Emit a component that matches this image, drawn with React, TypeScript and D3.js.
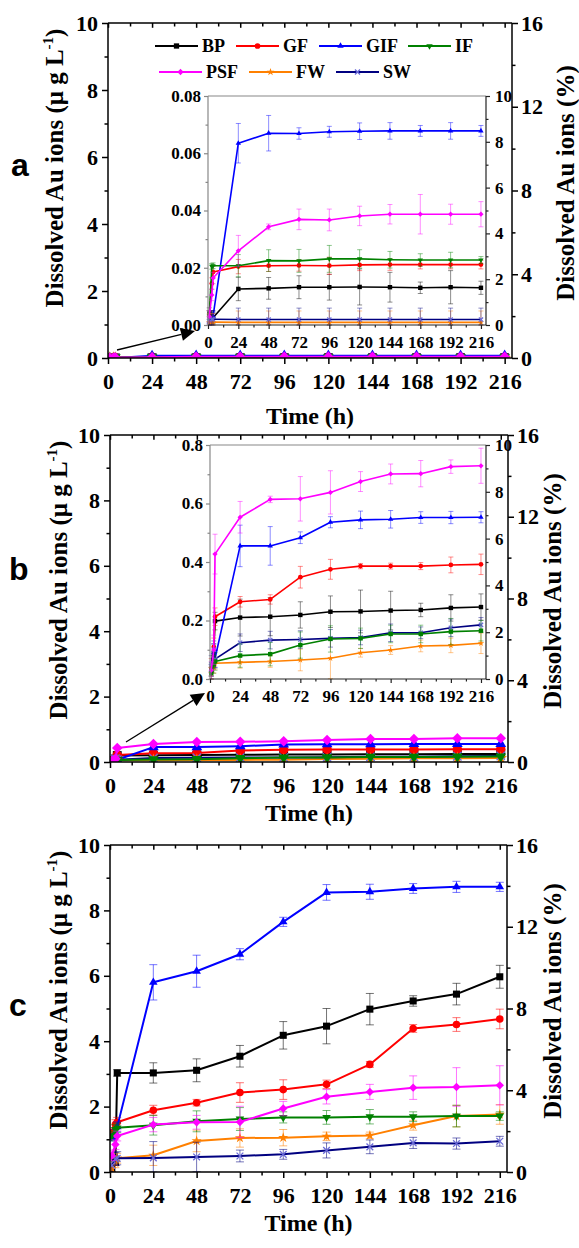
import React, { useEffect, useRef } from "react";
import * as d3 from "d3";

const W = 579;
const H = 1248;
const SERIF = "'Liberation Serif','Times New Roman',Times,serif";
const SANS = "'Liberation Sans',Arial,Helvetica,sans-serif";

// ---------- categories / ticks ----------
const SERIES = ["BP", "GF", "GIF", "IF", "PSF", "FW", "SW"];
const COLORS = ["#000000", "#ff0000", "#0000ff", "#008000", "#ff00ff", "#ff8000", "#000080"];
const TIMES = [1, 3, 4, 24, 48, 72, 96, 120, 144, 168, 192, 216];
const X_TICKS = [0, 24, 48, 72, 96, 120, 144, 168, 192, 216];
const X_MINOR = [12, 36, 60, 84, 108, 132, 156, 180, 204];
const LEFT_TICKS = [0, 2, 4, 6, 8, 10];
const LEFT_MINOR = [1, 3, 5, 7, 9];
const RIGHT_TICKS = [0, 4, 8, 12, 16];
const RIGHT_MINOR = [2, 6, 10, 14];
const INSET_RIGHT_TICKS = [0, 2, 4, 6, 8, 10];
const INSET_RIGHT_MINOR = [1, 3, 5, 7, 9];
const INSET_A_TICKS = [0, 0.02, 0.04, 0.06, 0.08];
const INSET_A_MINOR = [0.01, 0.03, 0.05, 0.07];
const INSET_B_TICKS = [0, 0.2, 0.4, 0.6, 0.8];
const INSET_B_MINOR = [0.1, 0.3, 0.5, 0.7];

// ---------- panel a (µg/L) ----------
const A_BP = [0.004, 0.003, 0.0025, 0.0126, 0.0128, 0.0132, 0.0132, 0.0133, 0.0132, 0.013, 0.0132, 0.013];
const A_BP_ERR = [0.002, 0.002, 0.002, 0.0041, 0.0038, 0.004, 0.0045, 0.0063, 0.0052, 0.002, 0.0058, 0.0023];
const A_GF = [0.003, 0.0145, 0.0185, 0.0204, 0.0207, 0.0208, 0.0207, 0.021, 0.0211, 0.0211, 0.0211, 0.0211];
const A_GF_ERR = [0.002, 0.002, 0.002, 0.0025, 0.002, 0.002, 0.003, 0.002, 0.002, 0.0015, 0.0015, 0.0015];
const A_GIF = [0.001, 0.002, 0.003, 0.0635, 0.067, 0.0669, 0.0675, 0.0677, 0.0678, 0.0678, 0.0678, 0.0678];
const A_GIF_ERR = [0.001, 0.001, 0.001, 0.0069, 0.0062, 0.002, 0.0019, 0.0029, 0.0029, 0.0019, 0.0029, 0.0019];
const A_IF = [0.003, 0.0205, 0.0207, 0.0207, 0.0225, 0.0224, 0.0231, 0.0231, 0.0228, 0.0227, 0.0227, 0.0227];
const A_IF_ERR = [0.002, 0.001, 0.001, 0.0039, 0.0038, 0.004, 0.0047, 0.0032, 0.0029, 0.0022, 0.0027, 0.0012];
const A_PSF = [0.003, 0.0105, 0.0164, 0.0259, 0.0343, 0.0369, 0.0367, 0.0381, 0.0387, 0.0387, 0.0387, 0.0387];
const A_PSF_ERR = [0.002, 0.002, 0.002, 0.0054, 0.001, 0.0036, 0.0038, 0.0034, 0.0034, 0.0069, 0.0035, 0.0044];
const A_FW = [0.001, 0.001, 0.001, 0.0009, 0.0009, 0.0009, 0.0009, 0.0009, 0.0009, 0.0009, 0.0009, 0.0009];
const A_FW_ERR = [0.003, 0.003, 0.003, 0.004, 0.004, 0.004, 0.004, 0.004, 0.004, 0.004, 0.004, 0.004];
const A_SW = [0.002, 0.002, 0.002, 0.0019, 0.0019, 0.0019, 0.0019, 0.0019, 0.0019, 0.0019, 0.0019, 0.0019];
const A_SW_ERR = [0.003, 0.003, 0.003, 0.004, 0.004, 0.004, 0.004, 0.004, 0.004, 0.004, 0.004, 0.004];

// ---------- panel b (µg/L) ----------
const B_BP = [0.03, 0.09, 0.198, 0.21, 0.213, 0.219, 0.23, 0.231, 0.234, 0.236, 0.243, 0.246];
const B_BP_ERR = [0.02, 0.03, 0.03, 0.063, 0.065, 0.045, 0.054, 0.073, 0.066, 0.023, 0.045, 0.045];
const B_GF = [0.04, 0.11, 0.213, 0.264, 0.272, 0.348, 0.375, 0.386, 0.386, 0.386, 0.39, 0.392];
const B_GF_ERR = [0.03, 0.03, 0.03, 0.018, 0.016, 0.037, 0.034, 0.009, 0.01, 0.012, 0.027, 0.035];
const B_GIF = [0.03, 0.09, 0.07, 0.455, 0.455, 0.483, 0.536, 0.544, 0.546, 0.552, 0.552, 0.553];
const B_GIF_ERR = [0.02, 0.03, 0.03, 0.071, 0.066, 0.02, 0.019, 0.03, 0.03, 0.02, 0.021, 0.019];
const B_IF = [0.02, 0.05, 0.06, 0.08, 0.085, 0.116, 0.137, 0.139, 0.154, 0.154, 0.162, 0.165];
const B_IF_ERR = [0.02, 0.03, 0.03, 0.04, 0.04, 0.045, 0.045, 0.035, 0.03, 0.03, 0.045, 0.035];
const B_PSF = [0.03, 0.1, 0.427, 0.553, 0.614, 0.616, 0.638, 0.675, 0.701, 0.702, 0.726, 0.729];
const B_PSF_ERR = [0.03, 0.05, 0.068, 0.054, 0.011, 0.076, 0.074, 0.034, 0.034, 0.045, 0.023, 0.06];
const B_FW = [0.02, 0.04, 0.054, 0.057, 0.06, 0.065, 0.071, 0.09, 0.099, 0.113, 0.115, 0.122];
const B_FW_ERR = [0.02, 0.02, 0.02, 0.02, 0.02, 0.037, 0.07, 0.015, 0.015, 0.02, 0.025, 0.035];
const B_SW = [0.05, 0.1, 0.068, 0.124, 0.133, 0.135, 0.139, 0.142, 0.158, 0.158, 0.175, 0.185];
const B_SW_ERR = [0.03, 0.03, 0.03, 0.03, 0.03, 0.03, 0.03, 0.025, 0.03, 0.02, 0.03, 0.025];

// ---------- panel c (µg/L) ----------
const C_BP = [0.1, 0.3, 3.03, 3.03, 3.11, 3.54, 4.18, 4.46, 4.98, 5.23, 5.44, 5.97];
const C_BP_ERR = [0.1, 0.1, 0.1, 0.31, 0.35, 0.33, 0.42, 0.54, 0.48, 0.16, 0.33, 0.35];
const C_GF = [1.2, 1.45, 1.52, 1.89, 2.12, 2.43, 2.52, 2.68, 3.29, 4.39, 4.51, 4.68];
const C_GF_ERR = [0.15, 0.15, 0.15, 0.15, 0.1, 0.3, 0.3, 0.13, 0.09, 0.12, 0.21, 0.3];
const C_GIF = [1.05, 1.2, 1.38, 5.8, 6.14, 6.66, 7.65, 8.55, 8.57, 8.67, 8.72, 8.72];
const C_GIF_ERR = [0.1, 0.1, 0.15, 0.54, 0.49, 0.17, 0.14, 0.24, 0.23, 0.15, 0.17, 0.14];
const C_IF = [1.1, 1.3, 1.35, 1.43, 1.55, 1.62, 1.67, 1.67, 1.69, 1.69, 1.71, 1.71];
const C_IF_ERR = [0.15, 0.15, 0.15, 0.3, 0.32, 0.35, 0.17, 0.21, 0.22, 0.15, 0.33, 0.13];
const C_PSF = [0.5, 0.84, 1.1, 1.45, 1.52, 1.53, 1.94, 2.3, 2.45, 2.58, 2.6, 2.65];
const C_PSF_ERR = [0.15, 0.15, 0.15, 0.22, 0.21, 0.48, 0.22, 0.22, 0.23, 0.36, 0.59, 0.6];
const C_FW = [0.1, 0.28, 0.42, 0.51, 0.95, 1.04, 1.05, 1.09, 1.12, 1.43, 1.71, 1.76];
const C_FW_ERR = [0.1, 0.15, 0.15, 0.31, 0.33, 0.28, 0.25, 0.13, 0.1, 0.15, 0.33, 0.3];
const C_SW = [0.2, 0.4, 0.42, 0.43, 0.46, 0.49, 0.54, 0.66, 0.77, 0.89, 0.87, 0.94];
const C_SW_ERR = [0.2, 0.2, 0.2, 0.5, 0.45, 0.18, 0.15, 0.23, 0.21, 0.17, 0.17, 0.15];

const A_VALS = [A_BP, A_GF, A_GIF, A_IF, A_PSF, A_FW, A_SW];
const A_ERRS = [A_BP_ERR, A_GF_ERR, A_GIF_ERR, A_IF_ERR, A_PSF_ERR, A_FW_ERR, A_SW_ERR];
const B_VALS = [B_BP, B_GF, B_GIF, B_IF, B_PSF, B_FW, B_SW];
const B_ERRS = [B_BP_ERR, B_GF_ERR, B_GIF_ERR, B_IF_ERR, B_PSF_ERR, B_FW_ERR, B_SW_ERR];
const C_VALS = [C_BP, C_GF, C_GIF, C_IF, C_PSF, C_FW, C_SW];
const C_ERRS = [C_BP_ERR, C_GF_ERR, C_GIF_ERR, C_IF_ERR, C_PSF_ERR, C_FW_ERR, C_SW_ERR];

const BASE_SHAPES = ["square", "circle", "triUp", "triDown", "diamond", "star", "times"];
const DRAW_ORDER = [0, 1, 2, 5, 6, 3, 4];

type Box = { x0: number; x1: number; y0: number; y1: number };
type Sel = d3.Selection<any, any, any, any>;

function addMarker(g: Sel, shape: string, cx: number, cy: number, s: number, color: string) {
  let d = "";
  let rot = 0;
  let fill = color;
  let stroke = "none";
  let sw = 0;
  switch (shape) {
    case "square":
      d = d3.symbol(d3.symbolSquare, s * s * 0.78)() as string;
      break;
    case "circle":
      d = d3.symbol(d3.symbolCircle, Math.PI * (s / 2) * (s / 2) * 0.9)() as string;
      break;
    case "triUp":
      d = d3.symbol(d3.symbolTriangle, 0.433 * s * s * 1.15)() as string;
      break;
    case "triDown":
      d = d3.symbol(d3.symbolTriangle, 0.433 * s * s * 1.15)() as string;
      rot = 180;
      break;
    case "diamond":
      d = d3.symbol(d3.symbolSquare, s * s * 0.55)() as string;
      rot = 45;
      break;
    case "star":
      d = d3.symbol(d3.symbolStar, s * s * 0.5)() as string;
      break;
    case "times": {
      const r = s * 0.42;
      d = `M${-r},${-r}L${r},${r}M${-r},${r}L${r},${-r}`;
      fill = "none";
      stroke = "#6a6ad8";
      sw = 1.3;
      break;
    }
  }
  g.append("path")
    .attr("d", d)
    .attr("transform", `translate(${cx},${cy}) rotate(${rot})`)
    .attr("fill", fill)
    .attr("stroke", stroke)
    .attr("stroke-width", sw);
}

function drawSeries(
  g: Sel,
  x: d3.ScaleLinear<number, number>,
  y: d3.ScaleLinear<number, number>,
  vals: number[],
  errs: number[],
  color: string,
  shape: string,
  o: { lw: number; ms: number; cap: number; errOp: number; errs: boolean }
) {
  if (o.errs) {
    const eg = g.append("g").attr("stroke", color).attr("stroke-opacity", o.errOp).attr("stroke-width", 1);
    TIMES.forEach((t, i) => {
      const xx = x(t);
      const lo = y(Math.max(0, vals[i] - errs[i]));
      const hi = y(vals[i] + errs[i]);
      eg.append("line").attr("x1", xx).attr("x2", xx).attr("y1", lo).attr("y2", hi);
      eg.append("line").attr("x1", xx - o.cap).attr("x2", xx + o.cap).attr("y1", lo).attr("y2", lo);
      eg.append("line").attr("x1", xx - o.cap).attr("x2", xx + o.cap).attr("y1", hi).attr("y2", hi);
    });
  }
  const line = d3
    .line<number>()
    .x((_, i) => x(TIMES[i]))
    .y((d) => y(d));
  g.append("path")
    .attr("d", line(vals) as string)
    .attr("fill", "none")
    .attr("stroke", color)
    .attr("stroke-width", o.lw)
    .attr("stroke-linejoin", "round");
  vals.forEach((v, i) => addMarker(g, shape, x(TIMES[i]), y(v), o.ms, color));
}

function styleAxis(a: Sel, font: number, color: string, sw: number) {
  a.attr("font-family", SERIF).attr("font-size", font).attr("font-weight", "bold");
  a.selectAll(".domain").remove();
  a.selectAll("line").attr("stroke", color).attr("stroke-width", sw);
  a.selectAll("text").attr("fill", "#000");
  return a;
}

function drawAxes(
  svg: Sel,
  box: Box,
  x: d3.ScaleLinear<number, number>,
  yL: d3.ScaleLinear<number, number>,
  yR: d3.ScaleLinear<number, number>,
  o: {
    font: number;
    tick: number;
    minor: number;
    padX: number;
    padL: number;
    padR: number;
    leftTicks: number[];
    leftMinor: number[];
    leftFmt: (d: any) => string;
    rightTicks: number[];
    rightMinor: number[];
    frameW: number;
    leftColor: string;
    bottomColor: string;
    top: boolean;
  }
) {
  const g = svg.append("g");
  const blank = () => "";
  styleAxis(
    g.append("g").attr("transform", `translate(0,${box.y1})`).call(
      d3.axisBottom(x).tickValues(X_TICKS).tickSize(o.tick).tickPadding(o.padX).tickFormat((d: any) => String(d))
    ),
    o.font,
    o.bottomColor,
    o.frameW
  );
  styleAxis(
    g.append("g").attr("transform", `translate(0,${box.y1})`).call(
      d3.axisBottom(x).tickValues(X_MINOR).tickSize(o.minor).tickFormat(blank)
    ),
    o.font,
    o.bottomColor,
    o.frameW
  );
  if (o.top) {
    styleAxis(
      g.append("g").attr("transform", `translate(0,${box.y0})`).call(
        d3.axisTop(x).tickValues(X_TICKS).tickSize(-o.tick * 0.8).tickFormat(blank)
      ),
      o.font,
      o.leftColor,
      o.frameW
    );
    styleAxis(
      g.append("g").attr("transform", `translate(0,${box.y0})`).call(
        d3.axisTop(x).tickValues(X_MINOR).tickSize(-o.minor).tickFormat(blank)
      ),
      o.font,
      o.leftColor,
      o.frameW
    );
  }
  styleAxis(
    g.append("g").attr("transform", `translate(${box.x0},0)`).call(
      d3.axisLeft(yL).tickValues(o.leftTicks).tickSize(o.tick).tickPadding(o.padL).tickFormat(o.leftFmt)
    ),
    o.font,
    o.leftColor,
    o.frameW
  );
  styleAxis(
    g.append("g").attr("transform", `translate(${box.x0},0)`).call(
      d3.axisLeft(yL).tickValues(o.leftMinor).tickSize(o.minor).tickFormat(blank)
    ),
    o.font,
    o.leftColor,
    o.frameW
  );
  styleAxis(
    g.append("g").attr("transform", `translate(${box.x1},0)`).call(
      d3.axisRight(yR).tickValues(o.rightTicks).tickSize(o.tick).tickPadding(o.padR).tickFormat((d: any) => String(d))
    ),
    o.font,
    o.bottomColor,
    o.frameW
  );
  styleAxis(
    g.append("g").attr("transform", `translate(${box.x1},0)`).call(
      d3.axisRight(yR).tickValues(o.rightMinor).tickSize(o.minor).tickFormat(blank)
    ),
    o.font,
    o.bottomColor,
    o.frameW
  );
  g.append("line").attr("x1", box.x0).attr("x2", box.x1).attr("y1", box.y0).attr("y2", box.y0)
    .attr("stroke", o.leftColor).attr("stroke-width", o.frameW);
  g.append("line").attr("x1", box.x0).attr("x2", box.x0).attr("y1", box.y0).attr("y2", box.y1)
    .attr("stroke", o.leftColor).attr("stroke-width", o.frameW);
  g.append("line").attr("x1", box.x0).attr("x2", box.x1).attr("y1", box.y1).attr("y2", box.y1)
    .attr("stroke", o.bottomColor).attr("stroke-width", o.frameW);
  g.append("line").attr("x1", box.x1).attr("x2", box.x1).attr("y1", box.y0).attr("y2", box.y1)
    .attr("stroke", o.bottomColor).attr("stroke-width", o.frameW);
}

function drawArrow(svg: Sel, x1: number, y1: number, x2: number, y2: number) {
  const ang = Math.atan2(y2 - y1, x2 - x1);
  const len = 14;
  const hw = 6.5;
  const bx = x2 - len * Math.cos(ang);
  const by = y2 - len * Math.sin(ang);
  svg.append("line").attr("x1", x1).attr("y1", y1).attr("x2", bx).attr("y2", by)
    .attr("stroke", "#000").attr("stroke-width", 1.3);
  const px = -Math.sin(ang) * hw;
  const py = Math.cos(ang) * hw;
  svg.append("path")
    .attr("d", `M${x2},${y2}L${bx + px},${by + py}L${bx - px},${by - py}Z`)
    .attr("fill", "#000");
}

type PanelCfg = {
  id: string;
  letter: string;
  letterPos: [number, number];
  main: Box;
  vals: number[][];
  errs: number[][];
  inset?: {
    box: Box;
    max: number;
    ticks: number[];
    minor: number[];
    fmt: string;
    shapes: string[];
    arrow: [number, number, number, number];
  };
  leftTitle: [number, number];
  rightTitle: [number, number];
  timeOffset: number;
  mainMs: number;
  mainErrs: boolean;
  legend: boolean;
};

const PANELS: PanelCfg[] = [
  {
    id: "a",
    letter: "a",
    letterPos: [11, 176],
    main: { x0: 108, x1: 512, y0: 23, y1: 358 },
    vals: A_VALS,
    errs: A_ERRS,
    inset: {
      box: { x0: 208, x1: 486, y0: 96, y1: 325 },
      max: 0.08,
      ticks: INSET_A_TICKS,
      minor: INSET_A_MINOR,
      fmt: ".2f",
      shapes: BASE_SHAPES,
      arrow: [117, 350, 195, 331],
    },
    leftTitle: [63, 168],
    rightTitle: [574, 183],
    timeOffset: 66,
    mainMs: 10,
    mainErrs: false,
    legend: true,
  },
  {
    id: "b",
    letter: "b",
    letterPos: [9, 580],
    main: { x0: 110, x1: 508, y0: 435, y1: 762 },
    vals: B_VALS,
    errs: B_ERRS,
    inset: {
      box: { x0: 210, x1: 486, y0: 445, y1: 679 },
      max: 0.8,
      ticks: INSET_B_TICKS,
      minor: INSET_B_MINOR,
      fmt: ".1f",
      shapes: ["square", "circle", "triUp", "square", "diamond", "star", "times"],
      arrow: [126, 742, 205, 693],
    },
    leftTitle: [67, 580],
    rightTitle: [561, 591],
    timeOffset: 59,
    mainMs: 10,
    mainErrs: false,
    legend: false,
  },
  {
    id: "c",
    letter: "c",
    letterPos: [9, 1016],
    main: { x0: 110, x1: 507, y0: 845, y1: 1172 },
    vals: C_VALS,
    errs: C_ERRS,
    leftTitle: [67, 990],
    rightTitle: [561, 1001],
    timeOffset: 59,
    mainMs: 8,
    mainErrs: true,
    legend: false,
  },
];

function drawPanel(svg: Sel, p: PanelCfg) {
  const m = p.main;
  const x = d3.scaleLinear().domain([0, 220]).range([m.x0, m.x1]);
  const yL = d3.scaleLinear().domain([0, 10]).range([m.y1, m.y0]);
  const yR = d3.scaleLinear().domain([0, 16]).range([m.y1, m.y0]);

  const clipId = `clip-${p.id}`;
  svg.append("clipPath").attr("id", clipId).append("rect")
    .attr("x", m.x0).attr("y", m.y0).attr("width", m.x1 - m.x0).attr("height", m.y1 - m.y0);

  const sg = svg.append("g").attr("clip-path", `url(#${clipId})`);
  DRAW_ORDER.forEach((k) => {
    drawSeries(sg, x, yL, p.vals[k], p.errs[k], COLORS[k], BASE_SHAPES[k], {
      lw: 2,
      ms: p.mainMs,
      cap: 4,
      errOp: 0.55,
      errs: p.mainErrs,
    });
  });

  drawAxes(svg, m, x, yL, yR, {
    font: 22,
    tick: 6,
    minor: 3.5,
    padX: 9,
    padL: 4,
    padR: 3,
    leftTicks: LEFT_TICKS,
    leftMinor: LEFT_MINOR,
    leftFmt: (d: any) => String(d),
    rightTicks: RIGHT_TICKS,
    rightMinor: RIGHT_MINOR,
    frameW: 1.5,
    leftColor: "#000",
    bottomColor: "#000",
    top: true,
  });

  svg.append("text")
    .attr("x", (m.x0 + m.x1) / 2)
    .attr("y", m.y1 + p.timeOffset)
    .attr("text-anchor", "middle")
    .attr("font-family", SERIF)
    .attr("font-weight", "bold")
    .attr("font-size", 24)
    .text("Time (h)");

  const lt = svg.append("text")
    .attr("transform", `translate(${p.leftTitle[0]},${p.leftTitle[1]}) rotate(-90)`)
    .attr("text-anchor", "middle")
    .attr("font-family", SERIF)
    .attr("font-weight", "bold")
    .attr("font-size", 25);
  lt.append("tspan").text("Dissolved Au ions (\u03bc g L");
  lt.append("tspan").attr("font-size", 15).attr("dy", -10).text("-1");
  lt.append("tspan").attr("dy", 10).text(")");

  svg.append("text")
    .attr("transform", `translate(${p.rightTitle[0]},${p.rightTitle[1]}) rotate(-90)`)
    .attr("text-anchor", "middle")
    .attr("font-family", SERIF)
    .attr("font-weight", "bold")
    .attr("font-size", 25)
    .text("Dissolved Au ions (%)");

  svg.append("text")
    .attr("x", p.letterPos[0])
    .attr("y", p.letterPos[1])
    .attr("font-family", SANS)
    .attr("font-weight", "bold")
    .attr("font-size", 32)
    .text(p.letter);

  if (p.inset) {
    const ib = p.inset.box;
    const xi = d3.scaleLinear().domain([0, 220]).range([ib.x0, ib.x1]);
    const yi = d3.scaleLinear().domain([0, p.inset.max]).range([ib.y1, ib.y0]);
    const yiR = d3.scaleLinear().domain([0, 10]).range([ib.y1, ib.y0]);
    const ig = svg.append("g");
    DRAW_ORDER.forEach((k) => {
      drawSeries(ig, xi, yi, p.vals[k], p.errs[k], COLORS[k], p.inset!.shapes[k], {
        lw: 1.6,
        ms: 5,
        cap: 2.5,
        errOp: 0.45,
        errs: true,
      });
    });
    const f = d3.format(p.inset.fmt);
    drawAxes(svg, ib, xi, yi, yiR, {
      font: 17,
      tick: 4,
      minor: 2.5,
      padX: 7,
      padL: 3,
      padR: 5,
      leftTicks: p.inset.ticks,
      leftMinor: p.inset.minor,
      leftFmt: (d: any) => f(d),
      rightTicks: INSET_RIGHT_TICKS,
      rightMinor: INSET_RIGHT_MINOR,
      frameW: 1.2,
      leftColor: "#888",
      bottomColor: "#222",
      top: false,
    });
    const a = p.inset.arrow;
    drawArrow(svg, a[0], a[1], a[2], a[3]);
  }

  if (p.legend) {
    const items: [number, number, number][] = [
      [0, 155, 46],
      [1, 236, 46],
      [2, 319, 46],
      [3, 408, 46],
      [4, 159, 72],
      [5, 249, 72],
      [6, 336, 72],
    ];
    const lg = svg.append("g");
    items.forEach(([k, lx, ly]) => {
      lg.append("line").attr("x1", lx).attr("x2", lx + 43).attr("y1", ly).attr("y2", ly)
        .attr("stroke", COLORS[k]).attr("stroke-width", 2);
      addMarker(lg, BASE_SHAPES[k], lx + 21.5, ly, 6, COLORS[k]);
      lg.append("text")
        .attr("x", lx + 47)
        .attr("y", ly + 6)
        .attr("font-family", SERIF)
        .attr("font-weight", "bold")
        .attr("font-size", 18)
        .text(SERIES[k]);
    });
  }
}

export default function App() {
  const ref = useRef<SVGSVGElement>(null);
  useEffect(() => {
    const svg = d3.select(ref.current);
    svg.selectAll("*").remove();
    svg.append("rect").attr("width", W).attr("height", H).attr("fill", "#fff");
    PANELS.forEach((p) => drawPanel(svg as any, p));
  }, []);
  return (
    <svg
      ref={ref}
      width={W}
      height={H}
      style={{ position: "absolute", left: 0, top: 0, display: "block" }}
    />
  );
}
